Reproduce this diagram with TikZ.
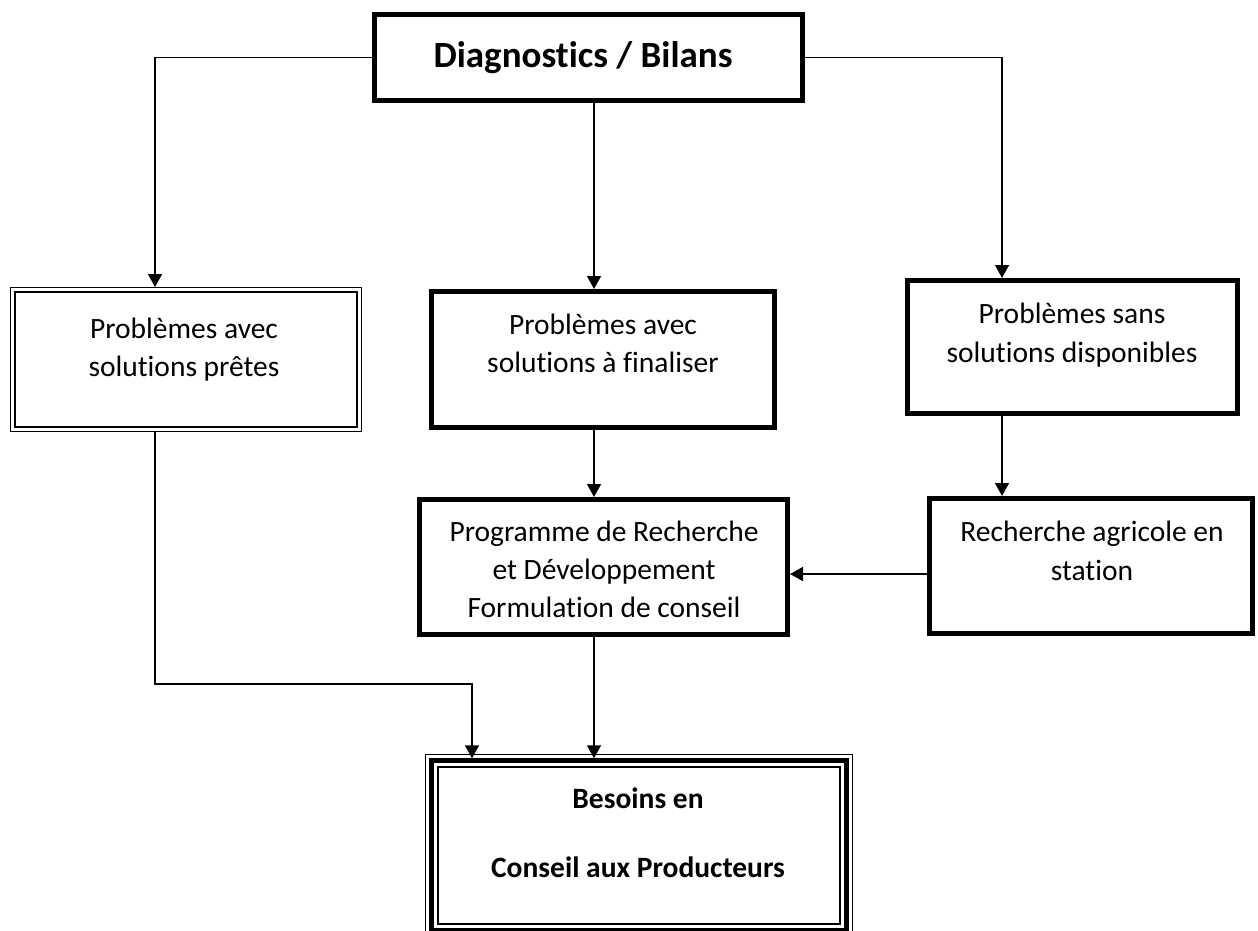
\documentclass[tikz,border=0pt]{standalone}
\usepackage{fontspec}
\setmainfont{Carlito}[Ligatures=NoCommon]
\usetikzlibrary{arrows.meta}
\begin{document}
\begin{tikzpicture}[x=1pt,y=-1pt,
  thickbox/.style={draw, rectangle, line width=5pt, inner sep=0pt, outer sep=2.5pt},
  dblbox/.style={draw, rectangle, double, line width=1.3pt, double distance=3pt, inner sep=0pt, outer sep=2.8pt},
  thinline/.style={line width=1.3pt},
  arr/.style={line width=1.5pt, -{Triangle[width=14pt,length=13pt]}},
  txt/.style={anchor=base, inner sep=0pt, font=\fontsize{29.5}{36}\selectfont},
  btxt/.style={anchor=base, inner sep=0pt, font=\fontsize{29.5}{36}\selectfont\bfseries},
  ttxt/.style={anchor=base, inner sep=0pt, font=\fontsize{37}{44}\selectfont\bfseries}]
\useasboundingbox (0,0) rectangle (1258,931);
\clip (0,0) rectangle (1258,931);
\fill[white] (0,0) rectangle (1258,931);

% boxes
\node[thickbox, minimum width=428pt, minimum height=86pt] (T) at (588.5,57.5) {};
\node[dblbox, minimum width=346.4pt, minimum height=139.4pt] (L) at (186,359.5) {};
\node[thickbox, minimum width=343pt, minimum height=136pt] (M) at (603,359.5) {};
\node[thickbox, minimum width=330pt, minimum height=133pt] (R) at (1072.5,347) {};
\node[thickbox, minimum width=368pt, minimum height=135pt] (P) at (603.5,567) {};
\node[thickbox, minimum width=323pt, minimum height=135pt] (Q) at (1091,566) {};
\node[draw, rectangle, line width=4.5pt, inner sep=0pt, outer sep=2.25pt,
      minimum width=415pt, minimum height=170pt] (B) at (639,845.5) {};
\draw[thinline] ([shift={(-3.75,-3.75)}]B.north west) rectangle ([shift={(3.75,3.75)}]B.south east);
\draw[thinline] ([shift={(8.75,8.75)}]B.north west) rectangle ([shift={(-8.75,-8.75)}]B.south east);

% texts
\node[ttxt] (t1) at (583,68) {Diagnostics / Bilans};
\node[txt] (l1) at (184,338) {Problèmes avec};
\node[txt] (l2) at (184,376) {solutions prêtes};
\node[txt] (m1) at (603,334) {Problèmes avec};
\node[txt] (m2) at (603,372) {solutions à finaliser};
\node[txt] (r1) at (1072,323) {Problèmes sans};
\node[txt] (r2) at (1072,362) {solutions disponibles};
\node[txt] (p1) at (604,541) {Programme de Recherche};
\node[txt] (p2) at (604,579) {et Développement};
\node[txt] (p3) at (604,617) {Formulation de conseil};
\node[txt] (q1) at (1092,541) {Recherche agricole en};
\node[txt] (q2) at (1092,580) {station};
\node[btxt] (b1) at (638,808) {Besoins en};
\node[btxt] (b2) at (638,877) {Conseil aux Producteurs};

% connectors
\coordinate (cx) at (594,0);
\coordinate (lx) at (155,0);
\coordinate (rx) at (1002,0);
\coordinate (ky) at (0,574);
\coordinate (k1) at (472,684);
\draw[arr] (T.west) -| (lx |- L.north);
\draw[arr] (T.east) -| (rx |- R.north);
\draw[arr] (T.south -| cx) -- (M.north -| cx);
\draw[arr] (M.south -| cx) -- (P.north -| cx);
\draw[arr] (R.south -| rx) -- (Q.north -| rx);
\draw[arr] (Q.west |- ky) -- (P.east |- ky);
\draw[arr] (L.south -| lx) |- (k1) -- (k1 |- B.north);
\draw[arr] (P.south -| cx) -- (B.north -| cx);
\end{tikzpicture}
\end{document}
